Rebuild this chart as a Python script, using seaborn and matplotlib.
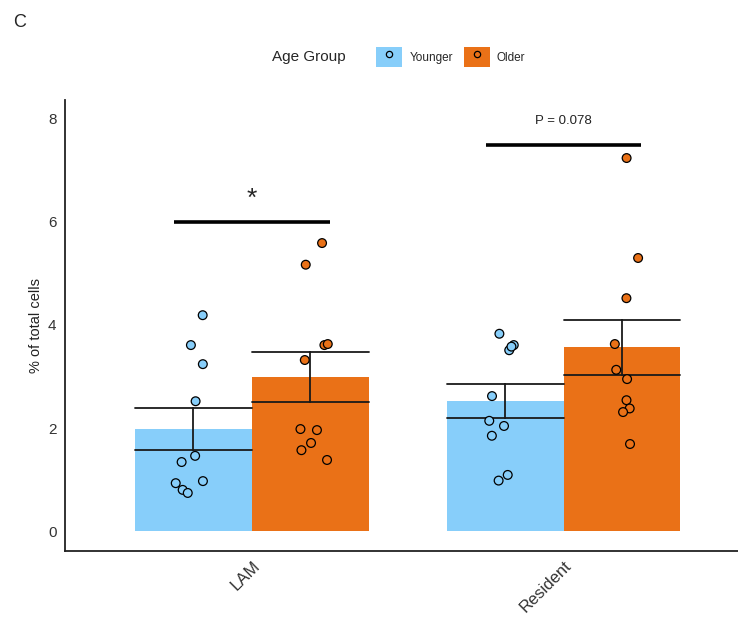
import matplotlib.pyplot as plt
import seaborn as sns
import pandas as pd
import numpy as np
from matplotlib.patches import Patch
from matplotlib.lines import Line2D

# values
cell_types = ["LAM", "Resident"]
age_groups = ["Younger", "Older"]
lam_younger = [4.19, 3.61, 3.24, 2.52, 1.46, 1.34, 0.97, 0.93, 0.80, 0.74]
lam_older = [5.59, 5.17, 3.61, 3.63, 3.32, 1.96, 1.98, 1.71, 1.57, 1.38]
res_younger = [3.83, 3.61, 3.51, 3.58, 2.62, 2.14, 2.04, 1.85, 1.09, 0.98]
res_older = [7.24, 5.30, 4.52, 3.63, 3.13, 2.95, 2.54, 2.38, 2.31, 1.69]
sig_labels = ["*", "P = 0.078"]
sig_heights = [6.0, 7.5]

palette = {"Younger": "#87CEFA", "Older": "#EA7117"}

rows = []
for ct, grp, vals in [("LAM", "Younger", lam_younger), ("LAM", "Older", lam_older),
                      ("Resident", "Younger", res_younger), ("Resident", "Older", res_older)]:
    for v in vals:
        rows.append({"cell": ct, "age": grp, "pct": v})
df = pd.DataFrame(rows)

sns.set_style("white")
plt.rcParams['font.family'] = ['Liberation Sans', 'DejaVu Sans']

fig = plt.figure(figsize=(7.38, 6.2), dpi=100)
ax = fig.add_axes([0.088, 0.111, 0.912, 0.728])

sns.barplot(data=df, x="cell", y="pct", hue="age", order=cell_types, hue_order=age_groups,
            palette=palette, saturation=1, width=0.75, errorbar="se", capsize=0.75,
            linewidth=0, err_kws={"color": "#1a1a1a", "linewidth": 1.3}, legend=False, ax=ax)

np.random.seed(4)
sns.stripplot(data=df, x="cell", y="pct", hue="age", order=cell_types, hue_order=age_groups,
              palette=palette, dodge=True, jitter=0.09, size=6.3, edgecolor="black",
              linewidth=0.9, legend=False, ax=ax, zorder=3)

# significance bars
for i, (lab, h) in enumerate(zip(sig_labels, sig_heights)):
    ax.plot([i - 0.25, i + 0.25], [h, h], color="black", linewidth=2.6, solid_capstyle="butt")
    if lab == "*":
        ax.text(i, h + 0.45, lab, ha="center", va="center", fontsize=19)
    else:
        ax.text(i, h + 0.46, lab, ha="center", va="center", fontsize=9.5, color="#222222")

ax.set_xlim(-0.6, 1.56)
ax.set_ylim(-0.39, 8.37)
ax.set_yticks([0, 2, 4, 6, 8])
ax.set_xlabel("")
ax.set_ylabel("% of total cells", fontsize=10.5, color="#222222")
ax.tick_params(axis="both", colors="#4d4d4d", labelsize=11, length=4, width=1,
               labelcolor="#333333", pad=2)
ax.tick_params(axis="x", labelsize=12, pad=1)
plt.setp(ax.get_xticklabels(), rotation=45, ha="right", rotation_mode="anchor")
for side in ["top", "right"]:
    ax.spines[side].set_visible(False)
for side in ["left", "bottom"]:
    ax.spines[side].set_color("#222222")
    ax.spines[side].set_linewidth(1.3)

# legend on top
handles = [(Patch(facecolor=palette[g], edgecolor="none"),
            Line2D([], [], marker="o", linestyle="", markersize=4.5, markerfacecolor=palette[g],
                   markeredgecolor="black", markeredgewidth=0.9)) for g in age_groups]
fig.text(0.368, 0.908, "Age Group", ha="left", va="center", fontsize=11)
fig.legend(handles, age_groups, loc="center left", bbox_to_anchor=(0.502, 0.908), ncol=2,
           frameon=False, fontsize=8.5, handlelength=2.2, handleheight=2.2,
           handletextpad=0.6, columnspacing=0.9, borderpad=0)

fig.text(0.018, 0.963, "C", fontsize=13, ha="left", va="center")

plt.savefig("out.png", dpi=100)
